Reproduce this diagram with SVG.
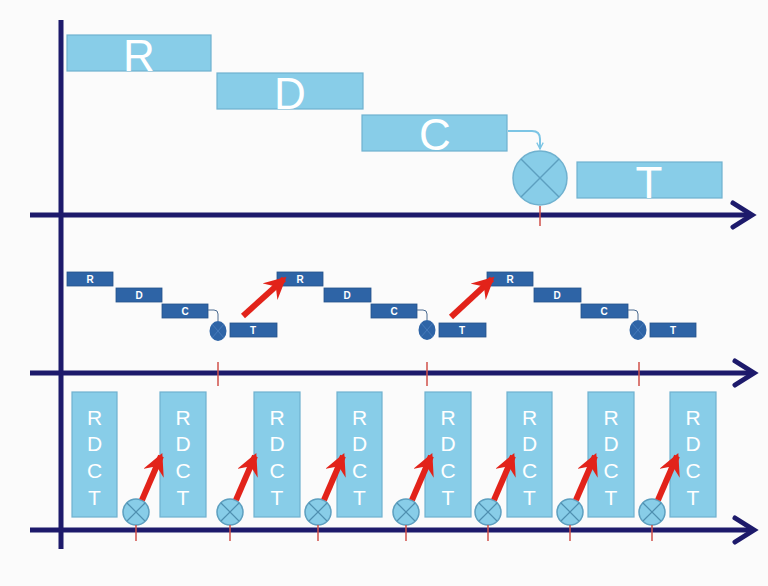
<svg xmlns="http://www.w3.org/2000/svg" width="768" height="586" viewBox="0 0 768 586">
<defs>
<style>
.axis{stroke:#1d1a6b;stroke-width:5;fill:none}
.head{stroke:#1d1a6b;stroke-width:5;fill:none;stroke-linecap:round;stroke-linejoin:miter}
.big{fill:#88cde8;stroke:#6fb1cf;stroke-width:1.2}
.bigt{font-family:"Liberation Sans",Arial,sans-serif;font-size:44px;fill:#ffffff;text-anchor:middle}
.sm{fill:#2e64a6;stroke:#24528a;stroke-width:0.8}
.smt{font-family:"Liberation Sans",Arial,sans-serif;font-size:10px;font-weight:bold;fill:#ffffff;text-anchor:middle}
.col{fill:#88cde8;stroke:#6fb1cf;stroke-width:1.2}
.colt{font-family:"Liberation Sans",Arial,sans-serif;font-size:21px;fill:#ffffff;text-anchor:middle}
.tick{stroke:#d0504a;stroke-width:1.5}
.red{stroke:#e2231a;stroke-width:6;fill:none;marker-end:url(#rh)}
.xc{fill:#88cde8;stroke:#5d9fbf;stroke-width:1.5}
.xl{stroke:#4f8fb0;stroke-width:1.2}
</style>
<marker id="rh" viewBox="0 0 10 10" refX="8.5" refY="5" markerWidth="3.7" markerHeight="3.7" orient="auto" markerUnits="strokeWidth">
<path d="M0,0 L10,5 L0,10 L3.5,5 z" fill="#e2231a"/>
</marker>
<marker id="bh" viewBox="0 0 10 10" refX="9" refY="5" markerWidth="8" markerHeight="8" orient="auto" markerUnits="userSpaceOnUse">
<path d="M1,1 L9,5 L1,9" fill="none" stroke="#7cc5e5" stroke-width="1.6"/>
</marker>
<g id="xcirc"><circle r="13" class="xc"/><line x1="-9" y1="-9" x2="9" y2="9" class="xl"/><line x1="9" y1="-9" x2="-9" y2="9" class="xl"/></g>
</defs>
<rect width="768" height="586" fill="#fbfbfb"/>

<g id="axes">
<line x1="61" y1="20" x2="61" y2="549" class="axis"/>
<line x1="30" y1="215" x2="750" y2="215" class="axis"/>
<polyline points="733,203 752,215 733,227" class="head"/>
<line x1="30" y1="373" x2="752" y2="373" class="axis"/>
<polyline points="735,361 754,373 735,385" class="head"/>
<line x1="30" y1="530" x2="752" y2="530" class="axis"/>
<polyline points="735,518 754,530 735,542" class="head"/>
</g>

<g id="top">
<g id="tR"><rect x="67" y="35" width="144" height="36" class="big"/><text x="139" y="71" class="bigt">R</text></g>
<g id="tD"><rect x="217" y="73" width="146" height="36" class="big"/><text x="290" y="109" class="bigt">D</text></g>
<g id="tC"><rect x="362" y="115" width="145" height="36" class="big"/><text x="435" y="150" class="bigt">C</text></g>
<g id="tX"><circle cx="540" cy="178" r="27" fill="#88cde8" stroke="#6fb1cf" stroke-width="1.5"/><line x1="521" y1="159" x2="559" y2="197" stroke="#5d9fbf" stroke-width="1.5"/><line x1="559" y1="159" x2="521" y2="197" stroke="#5d9fbf" stroke-width="1.5"/></g>
<g id="tT"><rect x="577" y="162" width="145" height="36" class="big"/><text x="649" y="198" class="bigt">T</text></g>
</g>

<g id="middle">
<g><rect x="67" y="272" width="46" height="14" class="sm"/><text x="90" y="283" class="smt">R</text></g>
<g><rect x="116" y="288" width="46" height="14" class="sm"/><text x="139" y="299" class="smt">D</text></g>
<g><rect x="162" y="304" width="46" height="14" class="sm"/><text x="185" y="315" class="smt">C</text></g>
<g><ellipse cx="218" cy="331" rx="8.5" ry="10" fill="#2e64a6"/><line x1="212" y1="324" x2="224" y2="338" stroke="#4b7fbf" stroke-width="0.8"/><line x1="224" y1="324" x2="212" y2="338" stroke="#4b7fbf" stroke-width="0.8"/></g>
<g><rect x="230" y="323" width="47" height="14" class="sm"/><text x="253" y="334" class="smt">T</text></g>
<g><rect x="277" y="272" width="46" height="14" class="sm"/><text x="300" y="283" class="smt">R</text></g>
<g><rect x="324" y="288" width="47" height="14" class="sm"/><text x="347" y="299" class="smt">D</text></g>
<g><rect x="371" y="304" width="46" height="14" class="sm"/><text x="394" y="315" class="smt">C</text></g>
<g><ellipse cx="427" cy="330" rx="8.5" ry="10" fill="#2e64a6"/><line x1="421" y1="323" x2="433" y2="337" stroke="#4b7fbf" stroke-width="0.8"/><line x1="433" y1="323" x2="421" y2="337" stroke="#4b7fbf" stroke-width="0.8"/></g>
<g><rect x="439" y="323" width="47" height="14" class="sm"/><text x="462" y="334" class="smt">T</text></g>
<g><rect x="487" y="272" width="46" height="14" class="sm"/><text x="510" y="283" class="smt">R</text></g>
<g><rect x="534" y="288" width="47" height="14" class="sm"/><text x="557" y="299" class="smt">D</text></g>
<g><rect x="581" y="304" width="47" height="14" class="sm"/><text x="604" y="315" class="smt">C</text></g>
<g><ellipse cx="638" cy="330" rx="8.5" ry="10" fill="#2e64a6"/><line x1="632" y1="323" x2="644" y2="337" stroke="#4b7fbf" stroke-width="0.8"/><line x1="644" y1="323" x2="632" y2="337" stroke="#4b7fbf" stroke-width="0.8"/></g>
<g><rect x="650" y="323" width="46" height="14" class="sm"/><text x="673" y="334" class="smt">T</text></g>
</g>

<g id="bottom">
<g><rect x="72" y="392" width="45" height="125" class="col"/><text class="colt"><tspan x="94.5" y="425">R</tspan><tspan x="94.5" y="451">D</tspan><tspan x="94.5" y="478">C</tspan><tspan x="94.5" y="505">T</tspan></text></g>
<g><rect x="160" y="392" width="46" height="125" class="col"/><text class="colt"><tspan x="183" y="425">R</tspan><tspan x="183" y="451">D</tspan><tspan x="183" y="478">C</tspan><tspan x="183" y="505">T</tspan></text></g>
<g><rect x="254" y="392" width="46" height="125" class="col"/><text class="colt"><tspan x="277" y="425">R</tspan><tspan x="277" y="451">D</tspan><tspan x="277" y="478">C</tspan><tspan x="277" y="505">T</tspan></text></g>
<g><rect x="337" y="392" width="45" height="125" class="col"/><text class="colt"><tspan x="359.5" y="425">R</tspan><tspan x="359.5" y="451">D</tspan><tspan x="359.5" y="478">C</tspan><tspan x="359.5" y="505">T</tspan></text></g>
<g><rect x="425" y="392" width="46" height="125" class="col"/><text class="colt"><tspan x="448" y="425">R</tspan><tspan x="448" y="451">D</tspan><tspan x="448" y="478">C</tspan><tspan x="448" y="505">T</tspan></text></g>
<g><rect x="507" y="392" width="45" height="125" class="col"/><text class="colt"><tspan x="529.5" y="425">R</tspan><tspan x="529.5" y="451">D</tspan><tspan x="529.5" y="478">C</tspan><tspan x="529.5" y="505">T</tspan></text></g>
<g><rect x="588" y="392" width="46" height="125" class="col"/><text class="colt"><tspan x="611" y="425">R</tspan><tspan x="611" y="451">D</tspan><tspan x="611" y="478">C</tspan><tspan x="611" y="505">T</tspan></text></g>
<g><rect x="670" y="392" width="46" height="125" class="col"/><text class="colt"><tspan x="693" y="425">R</tspan><tspan x="693" y="451">D</tspan><tspan x="693" y="478">C</tspan><tspan x="693" y="505">T</tspan></text></g>
<use href="#xcirc" x="136" y="512"/>
<use href="#xcirc" x="230" y="512"/>
<use href="#xcirc" x="318" y="512"/>
<use href="#xcirc" x="406" y="512"/>
<use href="#xcirc" x="488" y="512"/>
<use href="#xcirc" x="570" y="512"/>
<use href="#xcirc" x="652" y="512"/>
</g>

<g id="connectors">
<path d="M508,131 H532 Q540,131 540,139 V149" fill="none" stroke="#7cc5e5" stroke-width="2" marker-end="url(#bh)"/>
<path d="M208,310 H214 Q218,310 218,314 V321" fill="none" stroke="#4a6a90" stroke-width="1"/>
<path d="M417,310 H423 Q427,310 427,314 V320" fill="none" stroke="#4a6a90" stroke-width="1"/>
<path d="M628,310 H634 Q638,310 638,314 V320" fill="none" stroke="#4a6a90" stroke-width="1"/>
<line x1="243" y1="316" x2="284" y2="279" class="red"/>
<line x1="451" y1="317" x2="492" y2="279" class="red"/>
<line x1="142" y1="500" x2="161" y2="456" class="red"/>
<line x1="236" y1="500" x2="255" y2="456" class="red"/>
<line x1="324" y1="500" x2="343" y2="456" class="red"/>
<line x1="412" y1="500" x2="431" y2="456" class="red"/>
<line x1="494" y1="500" x2="513" y2="456" class="red"/>
<line x1="576" y1="500" x2="595" y2="456" class="red"/>
<line x1="658" y1="500" x2="677" y2="456" class="red"/>
<line x1="540" y1="206" x2="540" y2="226" class="tick"/>
<line x1="218" y1="362" x2="218" y2="386" class="tick"/>
<line x1="427" y1="362" x2="427" y2="386" class="tick"/>
<line x1="639" y1="362" x2="639" y2="386" class="tick"/>
<line x1="136" y1="525" x2="136" y2="541" class="tick"/>
<line x1="230" y1="525" x2="230" y2="541" class="tick"/>
<line x1="318" y1="525" x2="318" y2="541" class="tick"/>
<line x1="406" y1="525" x2="406" y2="541" class="tick"/>
<line x1="488" y1="525" x2="488" y2="541" class="tick"/>
<line x1="570" y1="525" x2="570" y2="541" class="tick"/>
<line x1="652" y1="525" x2="652" y2="541" class="tick"/>
</g>
</svg>
